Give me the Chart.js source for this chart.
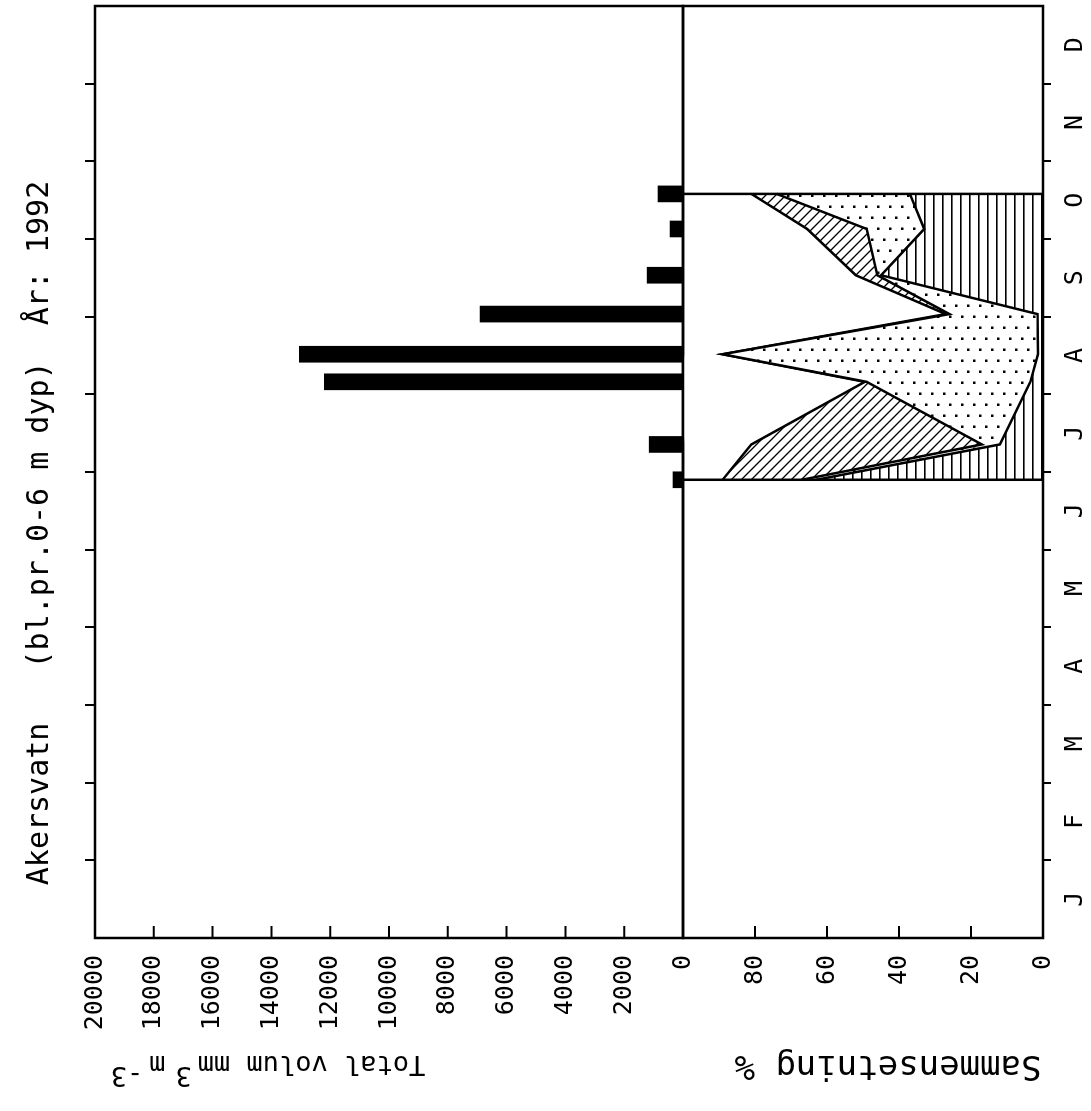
<!DOCTYPE html>
<html lang="no">
<head>
  <meta charset="UTF-8">
  <title>Akersvatn 1992</title>
  <style>
    html, body { margin: 0; padding: 0; background: #fff; overflow: hidden; }
    /* the chart is drawn upright and the whole sheet is turned a quarter left */
    #page {
      position: absolute; left: 0; top: 0;
      width: 1111px; height: 1091px;
      transform-origin: 0 0;
      transform: translateY(1111px) rotate(-90deg);
    }
    #volWrap { position: absolute; left: 0; top: 0; width: 1111px; height: 715px; }
    #pctWrap { position: absolute; left: 0; top: 600px; width: 1114px; height: 491px; }
  </style>
</head>
<body>
  <div id="page">
    <div id="volWrap"><canvas id="volChart"></canvas></div>
    <div id="pctWrap"><canvas id="pctChart"></canvas></div>
  </div>
  <script src="https://cdn.jsdelivr.net/npm/chart.js"></script>
  <script>
    const monthLabels = ['J', 'F', 'M', 'A', 'M', 'J', 'J', 'A', 'S', 'O', 'N', 'D'];
    const daysInMonth = [31, 29, 31, 30, 31, 30, 31, 31, 30, 31, 30, 31];
    const sampleDates = ['28.06', '12.07', '06.08', '17.08', '02.09', '17.09', '05.10', '19.10'];
    const totalVolume = [340, 1150, 12200, 13050, 6900, 1220, 440, 850];
    // composition in %, bottom group first
    const groupStriped = [63, 12, 3.5, 1.4, 1.5, 45, 33, 37];
    const groupDotted = [4, 5, 45.5, 87.6, 24.5, 1, 16, 37];
    const groupHatched = [22, 64, 0.5, 0, 1, 6, 16.5, 7];
    const groupOther = [11, 19, 51, 11, 73, 48, 34.5, 19];
    const volumeTicks = [0, 20000, 2000];
    const percentTicks = [0, 100, 20];

    const FONT = "'DejaVu Sans Mono', monospace";
    Chart.defaults.font.family = FONT;
    Chart.defaults.color = '#000';

    // dd.mm -> months since 1 Jan
    const toMonth = s => {
      const [d, m] = s.split('.').map(Number);
      return (m - 1) + (d - 1) / daysInMonth[m - 1];
    };
    const xs = sampleDates.map(toMonth);
    const pts = arr => arr.map((v, i) => ({ x: xs[i], y: v }));

    function makePattern(w, h, draw) {
      const c = document.createElement('canvas');
      c.width = w; c.height = h;
      const g = c.getContext('2d');
      g.fillStyle = '#fff';
      g.fillRect(0, 0, w, h);
      g.fillStyle = '#000';
      g.strokeStyle = '#000';
      draw(g);
      return document.createElement('canvas').getContext('2d').createPattern(c, 'repeat');
    }
    const patStripes = makePattern(9, 9, g => g.fillRect(0, 0, 9, 1.6));
    const patDots = makePattern(22, 12, g => { g.fillRect(1, 1, 2.5, 2.5); g.fillRect(12, 7, 2.5, 2.5); });
    const patHatch = makePattern(10, 10, g => {
      g.lineWidth = 1.3;
      g.beginPath();
      g.moveTo(-2, -2); g.lineTo(12, 12);
      g.moveTo(-2, 8); g.lineTo(2, 12);
      g.moveTo(8, -2); g.lineTo(12, 2);
      g.stroke();
    });

    const frame = {
      id: 'frame',
      afterDraw(chart) {
        const { ctx, chartArea: a } = chart;
        const y = chart.scales.y;
        ctx.save();
        ctx.strokeStyle = '#000';
        ctx.lineWidth = 2;
        ctx.beginPath();
        y.ticks.forEach(t => {
          if (t.value <= y.min || t.value >= y.max) return;
          const py = y.getPixelForValue(t.value);
          ctx.moveTo(a.left, py);
          ctx.lineTo(a.left + 12, py);
        });
        ctx.stroke();
        ctx.lineWidth = 2.5;
        ctx.strokeRect(a.left, a.top, a.right - a.left, a.bottom - a.top);
        ctx.restore();
      }
    };

    function rotatedText(ctx, x, y, parts, size) {
      ctx.save();
      ctx.font = size + 'px ' + FONT;
      ctx.fillStyle = '#000';
      ctx.textBaseline = 'alphabetic';
      ctx.translate(x, y);
      ctx.rotate(-Math.PI / 2);
      const total = parts.reduce((s, p) => s + ctx.measureText(p[0]).width + (p[2] || 0), 0);
      let pos = -total / 2;
      parts.forEach(p => {
        ctx.fillText(p[0], pos, -(p[1] || 0));
        pos += ctx.measureText(p[0]).width + (p[2] || 0);
      });
      ctx.restore();
    }

    const volTexts = {
      id: 'volTexts',
      afterDraw(chart) {
        const ctx = chart.ctx;
        ctx.save();
        ctx.font = '30px ' + FONT;
        ctx.fillStyle = '#000';
        ctx.textAlign = 'center';
        ctx.fillText('Akersvatn   (bl.pr.0-6 m dyp)  År: 1992', 578, 48);
        ctx.restore();
        rotatedText(ctx, 55, 268, [['Total volum mm', 0, 6], ['3', 11, 10], ['m', 0, 6], ['-3', 11]], 27);
      }
    };

    const pctTexts = {
      id: 'pctTexts',
      afterDraw(chart) {
        rotatedText(chart.ctx, 55, 288, [['Sammensetning %']], 34);
      },
      afterDatasetsDraw(chart) {
        const { ctx } = chart;
        const x = chart.scales.x, y = chart.scales.y;
        ctx.save();
        ctx.strokeStyle = '#000';
        ctx.lineWidth = 2.5;
        ctx.beginPath();
        [xs[0], xs[xs.length - 1]].forEach(v => {
          const px = x.getPixelForValue(v);
          ctx.moveTo(px, y.getPixelForValue(0));
          ctx.lineTo(px, y.getPixelForValue(100));
        });
        ctx.stroke();
        ctx.restore();
      }
    };

    const monthBounds = [1, 2, 3, 4, 5, 6, 7, 8, 9, 10, 11];
    const halfSteps = Array.from({ length: 25 }, (_, i) => i / 2);

    new Chart(document.getElementById('volChart'), {
      type: 'bar',
      data: {
        datasets: [{
          data: pts(totalVolume),
          backgroundColor: '#000',
          borderWidth: 0,
          barThickness: 16
        }]
      },
      options: {
        animation: false,
        responsive: true,
        maintainAspectRatio: false,
        layout: { padding: { top: 85, right: 6, bottom: 2, left: 0 } },
        plugins: { legend: { display: false }, tooltip: { enabled: false } },
        scales: {
          x: {
            type: 'linear', position: 'top', min: 0, max: 12, offset: false,
            afterBuildTicks: s => { s.ticks = monthBounds.map(v => ({ value: v })); },
            afterFit: s => { s.height = 10; },
            ticks: { display: false },
            grid: { offset: false, drawOnChartArea: false, drawTicks: true, tickLength: 10, color: '#000', lineWidth: 2 },
            border: { display: false }
          },
          y: {
            min: volumeTicks[0], max: volumeTicks[1],
            afterFit: s => { s.width = 173; },
            ticks: { stepSize: volumeTicks[2], padding: 17, font: { size: 25 }, callback: v => String(v) },
            grid: { display: false, drawTicks: false },
            border: { display: false }
          }
        }
      },
      plugins: [frame, volTexts]
    });

    const layer = (data, fill, bg) => ({
      data: pts(data), fill, backgroundColor: bg,
      borderColor: '#000', borderWidth: 2.5, pointRadius: 0, tension: 0
    });

    new Chart(document.getElementById('pctChart'), {
      type: 'line',
      data: {
        datasets: [
          layer(groupStriped, 'origin', patStripes),
          layer(groupDotted, '-1', patDots),
          layer(groupHatched, '-1', patHatch),
          layer(groupOther, '-1', '#fff')
        ]
      },
      options: {
        animation: false,
        responsive: true,
        maintainAspectRatio: false,
        layout: { padding: { top: 83, right: 3, bottom: 0, left: 0 } },
        plugins: { legend: { display: false }, tooltip: { enabled: false } },
        scales: {
          x: {
            type: 'linear', min: 0, max: 12,
            afterBuildTicks: s => { s.ticks = halfSteps.map(v => ({ value: v })); },
            afterFit: s => { s.height = 48; },
            ticks: {
              autoSkip: false, maxRotation: 0, minRotation: 0, padding: 9,
              font: { size: 25 },
              callback: v => (v % 1 === 0.5 ? monthLabels[Math.floor(v)] : '')
            },
            grid: {
              drawOnChartArea: false, drawTicks: true, tickLength: 8, lineWidth: 2,
              tickColor: c => (c.tick && c.tick.value % 1 === 0 && c.tick.value > 0 && c.tick.value < 12) ? '#000' : 'rgba(0,0,0,0)'
            },
            border: { display: false }
          },
          y: {
            stacked: true,
            min: percentTicks[0], max: percentTicks[1],
            afterFit: s => { s.width = 173; },
            ticks: { stepSize: percentTicks[2], padding: 17, font: { size: 25 }, callback: v => (v === 100 ? '' : String(v)) },
            grid: { display: false, drawTicks: false },
            border: { display: false }
          }
        }
      },
      plugins: [frame, pctTexts]
    });
  </script>
</body>
</html>
